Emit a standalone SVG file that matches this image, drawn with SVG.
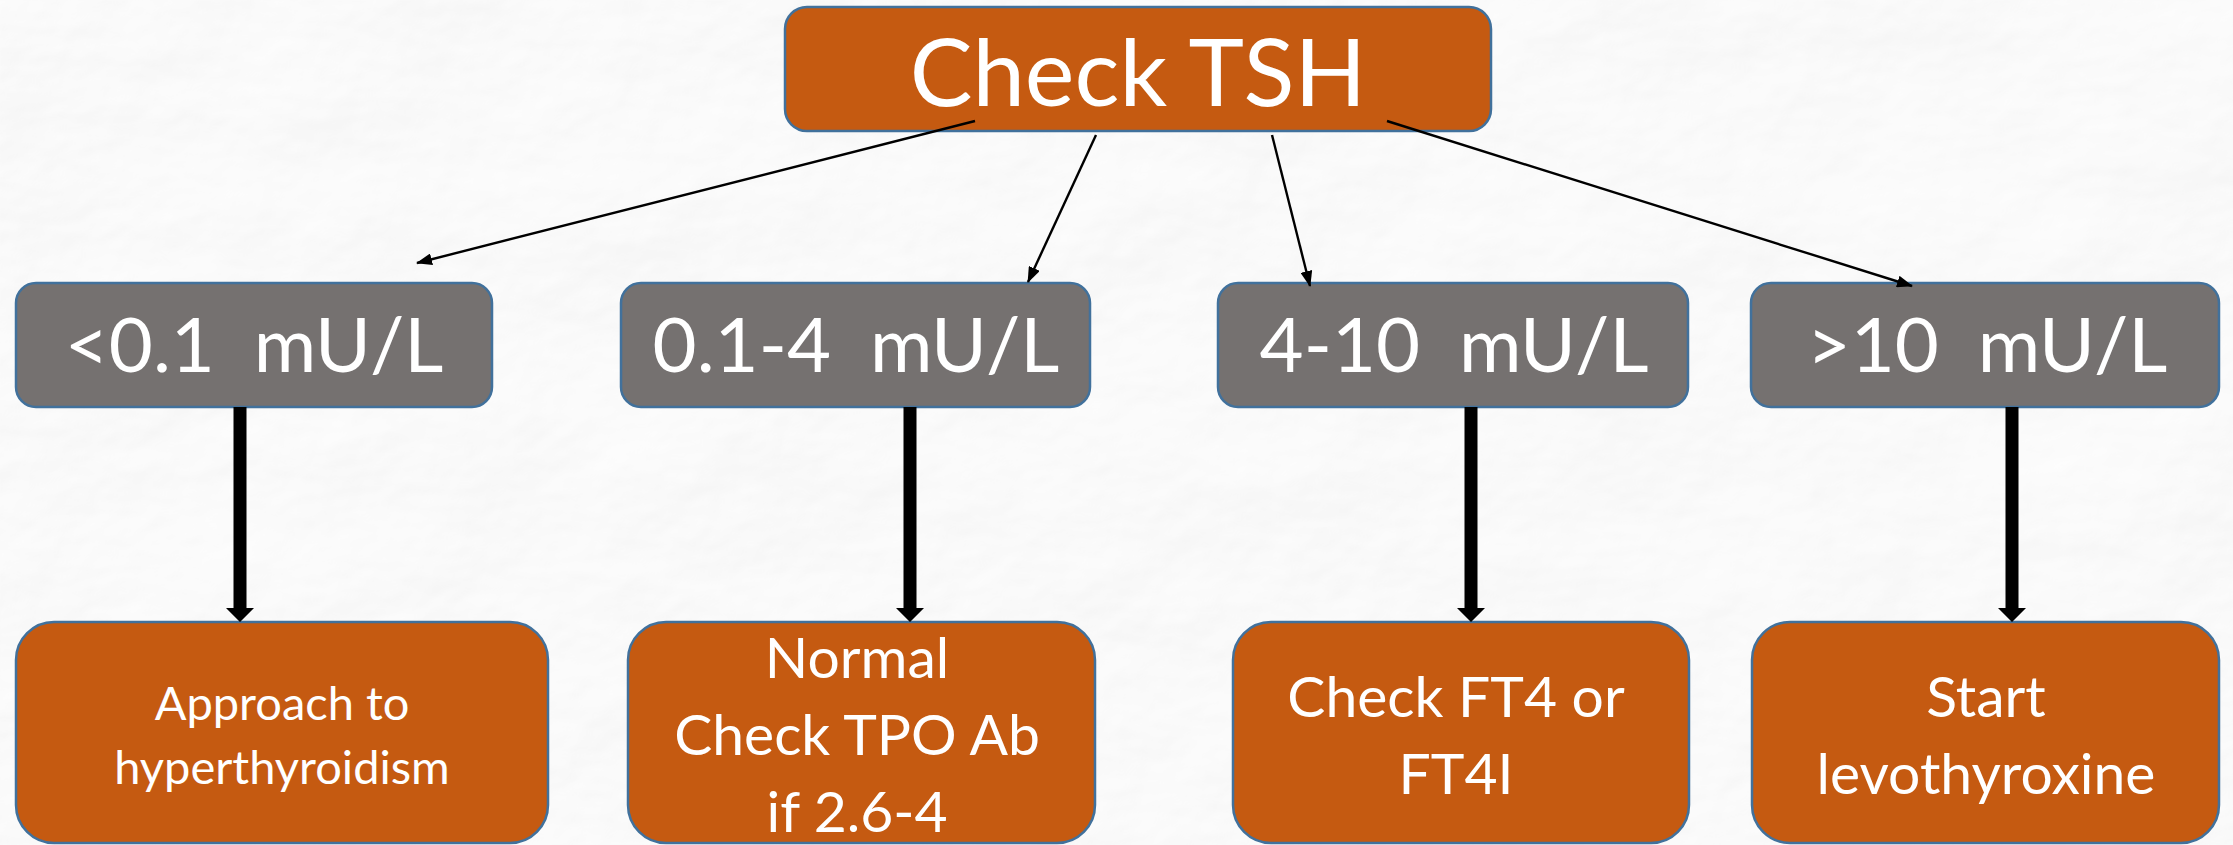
<svg xmlns="http://www.w3.org/2000/svg" width="2233" height="845" viewBox="0 0 2233 845">
  <style>
    .box { stroke: #41719C; stroke-width: 2.5; }
    .orange { fill: #C55A11; }
    .gray { fill: #757170; }
    .lbl { font-family: Lato, "Open Sans", "Liberation Sans", sans-serif; fill: #ffffff; text-anchor: middle; }
    .thin { stroke: #000000; stroke-width: 2.4; fill: none; marker-end: url(#head); }
    .thick { fill: #000000; }
  </style>
  <defs>
    <marker id="head" viewBox="0 0 16 12" refX="15" refY="6" markerWidth="16" markerHeight="12" markerUnits="userSpaceOnUse" orient="auto">
      <path d="M0,0 L16,6 L0,12 Z" fill="#000000"/>
    </marker>
    <!-- crumpled paper backdrop -->
    <filter id="paper" x="0" y="0" width="2233" height="845" filterUnits="userSpaceOnUse">
      <feTurbulence type="fractalNoise" baseFrequency="0.004 0.0055" numOctaves="5" seed="11" result="noise"/>
      <feDiffuseLighting in="noise" surfaceScale="7" diffuseConstant="1" lighting-color="#ffffff" result="lit">
        <feDistantLight azimuth="235" elevation="58"/>
      </feDiffuseLighting>
      <feComponentTransfer in="lit">
        <feFuncR type="linear" slope="0.36" intercept="0.65"/>
        <feFuncG type="linear" slope="0.36" intercept="0.65"/>
        <feFuncB type="linear" slope="0.36" intercept="0.65"/>
      </feComponentTransfer>
    </filter>
  </defs>

  <rect x="0" y="0" width="2233" height="845" fill="#efefef"/>
  <rect x="0" y="0" width="2233" height="845" filter="url(#paper)"/>

  <!-- root -->
  <g id="check-tsh">
    <rect class="box orange" x="785" y="7" width="706" height="124" rx="22"/>
    <text class="lbl" x="1138" y="106" font-size="94">Check TSH</text>
  </g>

  <!-- TSH ranges -->
  <g id="range-low">
    <rect class="box gray" x="16" y="283" width="476" height="124" rx="20"/>
    <text class="lbl" x="254" y="372" font-size="76" xml:space="preserve">&lt;0.1  mU/L</text>
  </g>
  <g id="range-normal">
    <rect class="box gray" x="621" y="283" width="469" height="124" rx="20"/>
    <text class="lbl" x="856" y="372" font-size="76" xml:space="preserve">0.1-4  mU/L</text>
  </g>
  <g id="range-mild">
    <rect class="box gray" x="1218" y="283" width="470" height="124" rx="20"/>
    <text class="lbl" x="1454" y="372" font-size="76" xml:space="preserve">4-10  mU/L</text>
  </g>
  <g id="range-high">
    <rect class="box gray" x="1751" y="283" width="468" height="124" rx="20"/>
    <text class="lbl" x="1987" y="372" font-size="76" xml:space="preserve">&gt;10  mU/L</text>
  </g>

  <!-- actions -->
  <g id="action-hyper">
    <rect class="box orange" x="16" y="622" width="532" height="221" rx="38"/>
    <text class="lbl" font-size="47"><tspan x="282" y="720">Approach to</tspan><tspan x="282" y="784">hyperthyroidism</tspan></text>
  </g>
  <g id="action-normal">
    <rect class="box orange" x="628" y="622" width="467" height="221" rx="38"/>
    <text class="lbl" font-size="57"><tspan x="857" y="678">Normal</tspan><tspan x="857" y="755">Check TPO Ab</tspan><tspan x="857" y="832">if 2.6-4</tspan></text>
  </g>
  <g id="action-ft4">
    <rect class="box orange" x="1233" y="622" width="456" height="221" rx="38"/>
    <text class="lbl" font-size="57"><tspan x="1456" y="717">Check FT4 or</tspan><tspan x="1456" y="794">FT4I</tspan></text>
  </g>
  <g id="action-levo">
    <rect class="box orange" x="1752" y="622" width="467" height="221" rx="38"/>
    <text class="lbl" font-size="57"><tspan x="1986" y="717">Start</tspan><tspan x="1986" y="794">levothyroxine</tspan></text>
  </g>

  <!-- connectors -->
  <g id="connectors">
    <line class="thin" x1="975" y1="121" x2="417" y2="263"/>
    <line class="thin" x1="1096" y1="135" x2="1028" y2="282"/>
    <line class="thin" x1="1272" y1="135" x2="1310" y2="286"/>
    <line class="thin" x1="1387" y1="121" x2="1912" y2="286"/>

    <path class="thick" d="M233.5,407 H246.5 V608 H254 L240,622 L226,608 H233.5 Z"/>
    <path class="thick" d="M903.5,407 H916.5 V608 H924 L910,622 L896,608 H903.5 Z"/>
    <path class="thick" d="M1464.5,407 H1477.5 V608 H1485 L1471,622 L1457,608 H1464.5 Z"/>
    <path class="thick" d="M2005.5,407 H2018.5 V608 H2026 L2012,622 L1998,608 H2005.5 Z"/>
  </g>
</svg>
